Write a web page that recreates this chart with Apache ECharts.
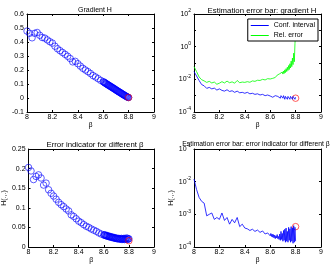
<!DOCTYPE html>
<html>
<head>
<meta charset="utf-8">
<script src="https://cdn.jsdelivr.net/npm/echarts@6/dist/echarts.min.js"></script>
<style>html,body{margin:0;padding:0;background:#fff}#c{width:332px;height:267px}</style>
</head>
<body>
<div id="c"></div>
<script>
// beta values (shared by all panels)
const beta = [8.00,8.02,8.04,8.06,8.08,8.10,8.12,8.14,8.16,8.18,8.20,8.22,8.24,8.26,8.28,8.30,8.32,8.34,8.36,8.38,8.40,8.42,8.44,8.46,8.48,8.50,8.52,8.54,8.56,8.58,8.60,
8.605,8.61,8.615,8.62,8.625,8.63,8.635,8.64,8.645,8.65,8.655,8.66,8.665,8.67,8.675,8.68,8.685,8.69,8.695,8.70,
8.705,8.71,8.715,8.72,8.725,8.73,8.735,8.74,8.745,8.75,8.755,8.76,8.765,8.77,8.775,8.78,8.785,8.79,8.795,8.80];

// top-left: gradient H
const gradH = [0.478,0.462,0.430,0.462,0.468,0.448,0.432,0.428,0.415,0.402,0.392,0.370,0.352,0.338,0.325,0.312,0.298,0.282,0.258,0.262,0.245,0.228,0.212,0.200,0.188,0.175,0.160,0.150,0.138,0.126,0.116,
0.114,0.110,0.108,0.104,0.101,0.099,0.095,0.093,0.090,0.087,0.084,0.081,0.079,0.075,0.073,0.070,0.067,0.064,0.061,0.058,
0.055,0.052,0.049,0.046,0.043,0.041,0.038,0.035,0.032,0.029,0.026,0.023,0.021,0.018,0.015,0.012,0.010,0.007,0.005,0.003];
const gradHLast = [8.80, 0.004];

// top-right: estimation error bars for gradient H
const confInt = [0.030,0.016,0.0085,0.0048,0.0040,0.0028,0.0032,0.0026,0.0029,0.0022,0.0026,0.0021,0.0019,0.0023,0.0018,0.0020,0.0016,0.0019,0.0015,0.0016,0.0014,0.0016,0.0013,0.0014,0.0012,0.0013,0.0011,0.0012,0.0010,0.0011,0.00095,
0.0010,0.0009,0.0011,0.0008,0.0010,0.0009,0.0008,0.0010,0.0009,0.0011,
0.0008,0.0009,0.0010,0.0008,0.0009,0.0007,0.0010,0.0008,0.0009,0.0007,
0.0010,0.0008,0.0006,0.0009,0.0007,0.0010,0.0006,0.0009,0.0007,0.0010,
0.0006,0.0009,0.0007,0.0010,0.0006,0.0009,0.0007,0.0010,0.0006,0.0008];
const relErr = [0.060,0.030,0.014,0.0095,0.0080,0.0065,0.0075,0.0060,0.0068,0.0050,0.0058,0.0072,0.0060,0.0078,0.0062,0.0070,0.0058,0.0085,0.0062,0.0068,0.0065,0.0072,0.0066,0.0080,0.0075,0.0088,0.0085,0.0100,0.0092,0.0110,0.0105,
0.0120,0.0105,0.0130,0.0115,0.0140,0.0120,0.0150,0.0130,0.0160,0.0140,
0.0180,0.0150,0.0200,0.0160,0.0220,0.0180,0.0250,0.0190,0.0280,0.0210,
0.0320,0.0230,0.0380,0.0260,0.0450,0.0300,0.0550,0.0350,0.0700,0.0400,
0.0900,0.0500,0.1300,0.0600,0.2000,0.0800,0.4000,0.1200,1.5000,8.0000];
const confLast = [8.80, 0.0007];

// bottom-left: error indicator H
const errInd = [0.203,0.194,0.172,0.180,0.184,0.176,0.158,0.163,0.146,0.137,0.130,0.122,0.114,0.108,0.103,0.097,0.092,0.082,0.078,0.072,0.066,0.062,0.057,0.053,0.050,0.046,0.043,0.040,0.036,0.033,0.031,
0.030,0.031,0.029,0.029,0.028,0.029,0.027,0.027,0.026,0.027,
0.025,0.026,0.024,0.025,0.024,0.023,0.024,0.022,0.023,0.022,
0.021,0.022,0.021,0.022,0.020,0.021,0.020,0.022,0.019,0.021,
0.020,0.022,0.019,0.021,0.020,0.023,0.019,0.022,0.020,0.021];
const errIndLast = [8.80, 0.016];

// bottom-right: estimation error bar for error indicator
const errBar = [0.0120,0.0058,0.0033,0.0025,0.0022,0.0009,0.0010,0.0011,0.0007,0.0008,0.0007,0.0011,0.00065,0.0008,0.0005,0.0007,0.00055,0.0008,0.00042,0.0005,0.00038,0.00036,0.00032,0.00035,0.00030,0.00033,0.00028,0.00031,0.00025,0.00027,0.00022,
0.00026,0.00021,0.00025,0.00020,0.00024,0.00019,0.00023,0.00018,0.00022,0.00019,
0.00024,0.00018,0.00021,0.00017,0.00025,0.00016,0.00030,0.00017,0.00026,0.00015,
0.00032,0.00016,0.00035,0.00014,0.00038,0.00015,0.00030,0.00014,0.00040,0.00016,
0.00036,0.00014,0.00042,0.00015,0.00038,0.00013,0.00045,0.00014,0.00040,0.00015];
const errBarLast = [8.80, 0.00042];

const titles = ['Gradient H', 'Estimation error bar: gradient H', 'Error indicator for different β', 'Estimation error bar: error indicator for different β'];
const legendNames = ['Conf. interval', 'Rel. error'];

const FONT = 'Liberation Sans';
const pair = (ys) => beta.map((b, i) => [b, ys[i]]);

const grids = [
  {left: 27, top: 14, width: 127, height: 98},
  {left: 194, top: 14, width: 127, height: 98},
  {left: 27, top: 149, width: 127, height: 98},
  {left: 194, top: 149, width: 127, height: 98}
];

const lineStyle = {color: '#000', width: 1};
function xAx(g, pos) {
  const main = pos === 'bottom';
  return {
    type: 'value', gridIndex: g, position: pos, min: 8, max: 9, interval: 0.2,
    axisLine: {show: true, lineStyle: lineStyle, onZero: false},
    axisTick: {show: true, inside: true, length: 2, lineStyle: lineStyle},
    axisLabel: {show: main, fontSize: 7, fontFamily: FONT, color: '#000', margin: 2},
    splitLine: {show: false},
    name: main ? 'β' : '', nameLocation: 'middle', nameGap: 9,
    nameTextStyle: {fontSize: 7, fontFamily: FONT, color: '#000'}
  };
}
function yLin(g, pos, min, max, interval, name) {
  const main = pos === 'left';
  return {
    type: 'value', gridIndex: g, position: pos, min: min, max: max, interval: interval,
    axisLine: {show: true, lineStyle: lineStyle, onZero: false},
    axisTick: {show: true, inside: true, length: 2, lineStyle: lineStyle},
    axisLabel: {show: main, fontSize: 7, fontFamily: FONT, color: '#000', margin: 3},
    splitLine: {show: false},
    name: main ? name : '', nameLocation: 'middle', nameGap: 17,
    nameTextStyle: {fontSize: 7, fontFamily: FONT, color: '#000'}
  };
}
function yLog(g, pos, min, max, step, name) {
  const main = pos === 'left';
  return {
    type: 'log', logBase: 10, gridIndex: g, position: pos, min: min, max: max, splitNumber: 6,
    axisLine: {show: true, lineStyle: lineStyle, onZero: false},
    axisTick: {show: true, inside: true, length: 2, lineStyle: lineStyle},
    axisLabel: {show: main, margin: 3,
      formatter: (v) => {
        const e = Math.round(Math.log10(v));
        return (e % step === 0) ? '{b|10}{s|' + e + '}' : '';
      },
      rich: {
        b: {fontSize: 7, fontFamily: FONT, color: '#000'},
        s: {fontSize: 5, fontFamily: FONT, color: '#000', verticalAlign: 'bottom', padding: [0, 0, 6, 0]}
      }
    },
    splitLine: {show: false},
    name: main ? name : '', nameLocation: 'middle', nameGap: 17,
    nameTextStyle: {fontSize: 7, fontFamily: FONT, color: '#000'}
  };
}

const circle = (color) => ({color: 'rgba(0,0,0,0)', borderColor: color, borderWidth: 0.8});
const tStyle = (s) => ({fontSize: s, fontWeight: 'normal', fontFamily: FONT, color: '#000'});

const option = {
  animation: false,
  backgroundColor: '#fff',
  title: [
    {text: titles[0], left: 90, top: 2, textAlign: 'center', textStyle: tStyle(7)},
    {text: titles[1], left: 257, top: 2, textAlign: 'center', textStyle: tStyle(7.8)},
    {text: titles[2], left: 90, top: 136, textAlign: 'center', textStyle: tStyle(7.8)},
    {text: titles[3], left: 251, top: 136, textAlign: 'center', textStyle: tStyle(6.8)}
  ],
  legend: {
    data: legendNames.map(n => ({name: n, icon: 'rect'})), orient: 'vertical', right: 14, top: 19,
    itemWidth: 18, itemHeight: 1, itemGap: 3, padding: [3, 3, 2, 3],
    borderColor: '#000', borderWidth: 1, backgroundColor: '#fff',
    textStyle: {fontSize: 7, fontFamily: FONT, color: '#000'}
  },
  grid: grids,
  xAxis: [xAx(0,'bottom'), xAx(0,'top'), xAx(1,'bottom'), xAx(1,'top'), xAx(2,'bottom'), xAx(2,'top'), xAx(3,'bottom'), xAx(3,'top')],
  yAxis: [
    yLin(0,'left',-0.1,0.6,0.1,''), yLin(0,'right',-0.1,0.6,0.1,''),
    yLog(1,'left',1e-4,1e2,2,''), yLog(1,'right',1e-4,1e2,2,''),
    yLin(2,'left',0,0.25,0.05,'H(.,.)'), yLin(2,'right',0,0.25,0.05,''),
    yLog(3,'left',1e-4,1e-1,1,'H(.,.)'), yLog(3,'right',1e-4,1e-1,1,'')
  ],
  series: [
    {name: 'gradH', type: 'scatter', xAxisIndex: 0, yAxisIndex: 0, data: pair(gradH), symbol: 'circle', symbolSize: 6.5, itemStyle: circle('#0000ff')},
    {name: 'gradHLast', type: 'scatter', xAxisIndex: 0, yAxisIndex: 0, data: [gradHLast], symbol: 'circle', symbolSize: 6.5, itemStyle: circle('#ff0000')},
    {name: legendNames[0], type: 'line', xAxisIndex: 2, yAxisIndex: 2, data: pair(confInt), symbol: 'none', lineStyle: {color: '#0000ff', width: 0.8}, itemStyle: {color: '#0000ff'}},
    {name: legendNames[1], type: 'line', xAxisIndex: 2, yAxisIndex: 2, data: pair(relErr), symbol: 'none', lineStyle: {color: '#00ff00', width: 0.8}, itemStyle: {color: '#00ff00'}},
    {name: 'confLast', type: 'scatter', xAxisIndex: 2, yAxisIndex: 2, data: [confLast], symbol: 'circle', symbolSize: 6.5, itemStyle: circle('#ff0000')},
    {name: 'errInd', type: 'scatter', xAxisIndex: 4, yAxisIndex: 4, data: pair(errInd), symbol: 'circle', symbolSize: 6.5, itemStyle: circle('#0000ff')},
    {name: 'errIndLast', type: 'scatter', xAxisIndex: 4, yAxisIndex: 4, data: [errIndLast], symbol: 'circle', symbolSize: 6.5, itemStyle: circle('#ff0000')},
    {name: 'errBar', type: 'line', xAxisIndex: 6, yAxisIndex: 6, data: pair(errBar), symbol: 'none', lineStyle: {color: '#0000ff', width: 0.8}},
    {name: 'errBarLast', type: 'scatter', xAxisIndex: 6, yAxisIndex: 6, data: [errBarLast], symbol: 'circle', symbolSize: 6.5, itemStyle: circle('#ff0000')}
  ]
};
echarts.init(document.getElementById('c'), null, {renderer: 'canvas'}).setOption(option);
</script>
</body>
</html>
